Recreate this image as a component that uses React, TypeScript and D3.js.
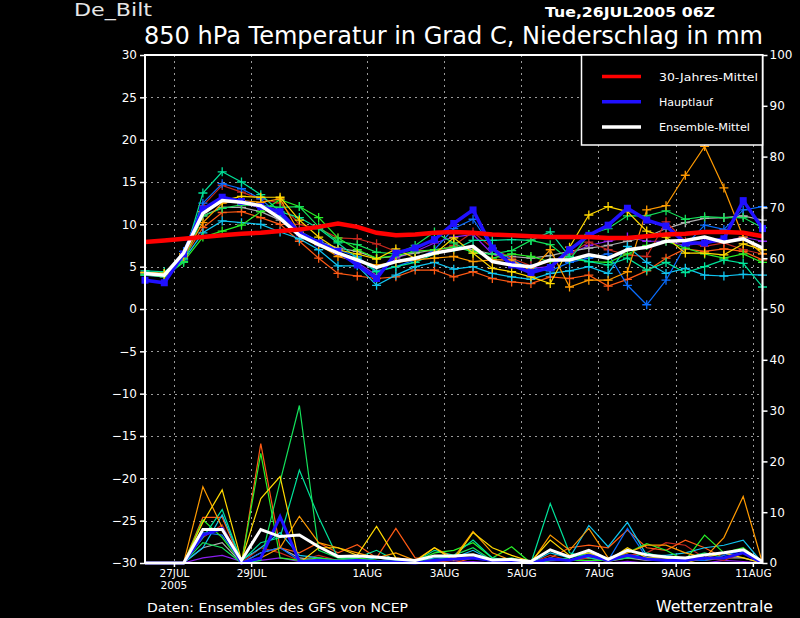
import { useEffect, useRef } from 'react';
import * as d3 from 'd3';

const W = 800;
const H = 618;
const M = { left: 145, right: 762.5, top: 55, bottom: 563 };
const FONT = "'DejaVu Sans', sans-serif";

// run start / end (26JUL2005 06Z, 12-hourly steps)
const START = Date.UTC(2005, 6, 26, 6);
const END = Date.UTC(2005, 7, 11, 6);
const STEP_HOURS = 12;

const dateTicks = ['2005-07-27', '2005-07-29', '2005-08-01', '2005-08-03', '2005-08-05', '2005-08-07', '2005-08-09', '2005-08-11'];
const dateTickLabels = ['27JUL', '29JUL', '1AUG', '3AUG', '5AUG', '7AUG', '9AUG', '11AUG'];
const tempTicks = [30, 25, 20, 15, 10, 5, 0, -5, -10, -15, -20, -25, -30];
const precipTicks = [100, 90, 80, 70, 60, 50, 40, 30, 20, 10, 0];

// 30-Jahres-Mittel
const climMean = [
  7.9, 8.1, 8.3, 8.5, 8.7, 8.9, 9.0, 9.2, 9.4,
  9.7, 10.1, 9.7, 9.0, 8.7, 8.8, 9.0, 9.1,
  9.0, 8.8, 8.7, 8.6, 8.5, 8.5, 8.5, 8.4,
  8.4, 8.6, 8.8, 8.9, 9.1, 9.1, 9.0, 8.6,
];

// Hauptlauf
const mainRun = [
  3.4, 3.1, 6.5, 11.8, 13.2, 12.7, 12.1, 11.5, 9.0,
  7.8, 6.8, 5.2, 3.6, 6.6, 7.2, 8.2, 10.1,
  11.7, 7.2, 5.2, 4.3, 4.9, 7.0, 8.7, 9.9,
  11.9, 10.5, 9.8, 7.8, 7.8, 8.3, 12.8, 9.5,
];
const mainRunPrecip = [
  0, 0, 0, 5.5, 6.8, 0, 1, 9.1, 0.3,
  0.5, 0.3, 0.5, 0.3, 0.2, 0, 0.5, 0.8,
  1, 0.5, 0.3, 0, 0.8, 0.5, 1.5, 0.5,
  1.5, 0.8, 0.5, 0.5, 1, 1, 2, 0,
];

// Ensemble-Mittel
const ensMean = [
  4.2, 4.0, 6.6, 11.3, 12.8, 12.6, 12.2, 10.7, 8.7,
  7.6, 6.6, 5.8, 4.9, 5.6, 6.0, 6.6, 7.0,
  7.4, 5.6, 5.2, 5.0, 5.8, 5.8, 6.4, 6.0,
  7.0, 7.3, 8.0, 8.1, 8.5, 7.9, 8.3, 7.2,
];
const ensMeanPrecip = [
  0, 0, 0, 6.6, 6.6, 0.5, 6.6, 5.2, 5.5,
  3.2, 1.3, 1.4, 1.2, 0.8, 0.5, 1.4, 1.4,
  1.6, 0.6, 0.7, 0.3, 2.6, 1.2, 2.5, 0.7,
  2.5, 1.6, 1.2, 1.0, 1.6, 2.0, 2.6, 0.3,
];

// ensemble members
const memberColors = [
  '#8a1ef0', '#b0b0b0', '#c8281e', '#ff5a14', '#10c4f0', '#0a6eff',
  '#28f028', '#00e39a', '#14e05a', '#ff9a00', '#ffd800',
];
const memberTemps = [
  [4.0, 3.8, 6.3, 11.5, 13.0, 12.5, 12.0, 11.2, 9.0, 7.8, 6.8, 5.5, 4.0, 6.0, 6.8, 7.8, 8.5, 8.8, 6.5, 5.5, 4.8, 5.0, 6.5, 7.5, 8.0, 8.5, 8.0, 8.0, 7.5, 7.8, 8.0, 8.5, 8.0],
  [4.3, 4.2, 6.4, 11.0, 12.0, 12.0, 11.5, 10.5, 9.0, 8.0, 7.2, 6.8, 6.0, 6.2, 6.6, 7.0, 7.3, 7.0, 6.5, 6.2, 6.0, 6.3, 6.8, 7.2, 7.5, 8.0, 8.5, 9.5, 10.2, 10.7, 10.8, 11.0, 10.5],
  [4.4, 4.1, 6.5, 12.2, 14.6, 13.8, 13.0, 12.5, 10.0, 9.5, 8.4, 8.3, 7.7, 6.8, 7.0, 6.8, 7.5, 9.1, 7.2, 6.0, 5.1, 5.6, 6.5, 7.9, 7.0, 6.4, 6.2, 10.3, 8.0, 7.4, 7.8, 7.0, 6.5],
  [4.2, 3.9, 6.0, 9.6, 11.4, 11.5, 10.8, 10.0, 8.0, 6.0, 4.2, 3.9, 3.6, 3.8, 4.6, 4.6, 3.8, 4.4, 3.6, 3.2, 3.0, 3.8, 3.6, 4.0, 2.7, 3.5, 4.5, 6.0, 7.1, 6.8, 7.1, 6.8, 5.8],
  [4.0, 3.9, 5.8, 9.0, 10.4, 10.2, 10.0, 9.1, 8.3, 7.0, 5.1, 5.1, 2.8, 4.0, 5.0, 5.5, 4.7, 5.0, 4.2, 3.8, 3.5, 4.2, 4.5, 5.0, 4.2, 7.4, 5.5, 4.2, 4.8, 4.0, 3.9, 4.1, 4.0],
  [4.2, 4.0, 6.8, 12.5, 14.8, 14.2, 13.0, 11.0, 9.2, 8.0, 7.0, 6.2, 4.5, 5.0, 5.8, 7.0, 9.5, 10.6, 7.2, 5.8, 4.8, 4.5, 5.5, 6.0, 6.5, 2.8, 0.5, 3.4, 7.5, 9.9, 9.4, 11.7, 12.1],
  [4.1, 3.9, 5.6, 8.5, 9.2, 9.9, 11.5, 12.9, 12.1, 10.8, 8.4, 7.0, 6.0, 6.3, 6.8, 7.0, 7.3, 6.8, 6.0, 6.5, 6.2, 5.6, 6.0, 5.6, 5.5, 6.5, 7.5, 8.0, 7.2, 6.5, 6.0, 6.5, 5.5],
  [4.5, 4.4, 6.0, 13.7, 16.2, 15.0, 13.5, 11.5, 10.8, 9.5, 7.8, 6.0, 4.4, 5.0, 5.5, 6.5, 7.0, 8.1, 8.1, 8.2, 8.1, 9.1, 6.2, 5.6, 5.2, 6.0, 4.6, 5.5, 4.3, 5.0, 5.8, 5.4, 2.6],
  [4.0, 3.8, 5.5, 11.0, 11.9, 12.3, 12.2, 12.0, 12.1, 9.7, 8.0, 7.6, 6.7, 6.5, 7.5, 9.1, 7.8, 6.6, 6.5, 6.9, 8.1, 7.6, 5.8, 8.8, 9.5, 11.0, 11.0, 11.6, 10.6, 10.9, 10.8, 10.8, 9.6],
  [4.3, 4.1, 6.2, 10.2, 12.5, 12.8, 12.6, 13.0, 9.0, 7.6, 6.2, 5.6, 5.2, 5.5, 5.8, 6.0, 6.2, 5.6, 5.8, 5.8, 4.5, 7.0, 2.6, 3.4, 3.4, 4.4, 11.7, 12.2, 15.8, 19.2, 14.3, 8.5, 6.5],
  [4.3, 4.2, 6.5, 11.5, 12.8, 13.3, 13.2, 13.2, 10.5, 8.5, 7.0, 6.5, 5.9, 7.1, 6.0, 6.5, 8.4, 6.6, 4.8, 4.4, 3.8, 3.0, 7.3, 11.1, 12.1, 11.5, 9.2, 8.5, 6.6, 6.6, 6.4, 7.7, 7.0],
];
const memberPrecip = [
  [0, 0, 0, 1, 1.5, 0.3, 0.5, 1, 0.3, 0.3, 0, 0, 0, 0, 0, 0, 0.2, 0.3, 0, 0, 0, 0.2, 0, 0.3, 0, 0.3, 0, 0, 0, 0, 0.5, 0.3, 0],
  [0, 0, 0, 3, 4, 0, 2, 3, 1, 0.5, 0.5, 0.5, 0.3, 0.3, 0, 0.5, 0.5, 1, 0.3, 0.3, 0, 0.5, 0.5, 1, 0.3, 1, 0.5, 0.5, 0.5, 0.5, 1, 1, 0],
  [0, 0, 0, 5, 7.5, 0, 3, 2, 0.5, 1.5, 0.5, 1, 0.3, 1, 0.5, 0.3, 0.5, 1, 0.5, 0.3, 0, 1.5, 0.5, 1, 0.5, 1.5, 2, 4, 3.5, 1, 0.5, 2, 0],
  [0, 0, 0, 9, 9, 0, 23.5, 3, 2, 4, 2, 3.6, 1, 6.8, 1, 0.5, 0, 1, 0.5, 0, 0, 1, 3, 3.5, 3, 6.5, 3, 2.5, 4.5, 3, 1, 2, 0],
  [0, 0, 0, 3, 9.5, 0.5, 3, 6, 1.5, 1, 0.5, 0.5, 1, 0.5, 0.3, 1, 1, 2.5, 0.5, 0.5, 0, 2, 1, 7.4, 3.2, 8, 1.5, 1.5, 2, 3, 3.5, 4.5, 0],
  [0, 0, 0, 6, 5.5, 0, 2, 3, 0.5, 0.5, 0.5, 0.5, 0.3, 0.3, 0, 0.5, 1.5, 1.5, 0.5, 0.3, 0, 1, 0.5, 2, 0.5, 6.8, 1, 1, 0.5, 0.5, 1.5, 2.5, 0],
  [0, 0, 0, 8.5, 5, 0, 21.6, 1, 0.5, 1, 0.5, 1, 0.5, 0.3, 0.3, 2, 2.5, 4, 1, 3.2, 0, 0.5, 0.5, 0.5, 0.5, 2, 3.8, 2.5, 0.5, 5.5, 2, 3, 0],
  [0, 0, 0, 5, 10.5, 0.3, 4, 5, 18.3, 9, 1, 1, 2.5, 0.5, 0.3, 2.5, 1.5, 4.5, 1, 0.5, 0, 11.7, 2, 1, 0.5, 1, 2, 1, 1, 1.5, 2, 2.5, 0],
  [0, 0, 0, 4, 3, 0, 0.5, 16, 31, 2.5, 1, 0.5, 0.5, 0.3, 0.5, 0.5, 1.5, 3, 0.5, 1, 0, 0.5, 1, 2, 0.5, 1, 1, 0.5, 1, 2, 1, 2, 0],
  [0, 0, 0, 15, 7, 0, 1, 3, 9.2, 4, 3, 2, 1, 2, 0.5, 3, 1, 6.2, 2, 0.5, 0, 5.5, 2.5, 6.8, 1, 2, 3.5, 3.5, 2, 1, 5, 13.1, 0],
  [0, 0, 0, 8, 14.4, 0.5, 12.7, 17, 0, 3, 3, 1.5, 7.2, 1, 0.3, 3, 0.5, 6, 3, 1.5, 0.3, 4.5, 1.5, 2, 0.5, 3, 1, 1, 0, 1, 2, 1, 0],
];

const legendItems = [
  { label: '30-Jahres-Mittel', color: '#ff0000', len: 99 },
  { label: 'Hauptlauf', color: '#2010ff', len: 54 },
  { label: 'Ensemble-Mittel', color: '#ffffff', len: 91 },
];

export default function App() {
  const svgRef = useRef<SVGSVGElement>(null);

  useEffect(() => {
    if (!svgRef.current) return;
    const svg = d3.select(svgRef.current);
    svg.selectAll('*').remove();

    const times = ensMean.map((_, i) => new Date(START + i * STEP_HOURS * 3600e3));
    const x = d3.scaleUtc().domain([new Date(START), new Date(END)]).range([M.left, M.right]);
    const yT = d3.scaleLinear().domain([-30, 30]).range([M.bottom, M.top]);
    const yP = d3.scaleLinear().domain([0, 100]).range([M.bottom, M.top]);
    const tickDates = dateTicks.map((d) => new Date(d + 'T00:00:00Z'));

    svg.append('rect').attr('width', W).attr('height', H).attr('fill', '#000');

    // dotted grid
    const grid = svg.append('g')
      .attr('stroke', '#9a9a9a')
      .attr('stroke-dasharray', '2,4')
      .attr('shape-rendering', 'crispEdges');
    grid.selectAll('line.h')
      .data(tempTicks.filter((t) => t > -30 && t < 30))
      .join('line')
      .attr('x1', M.left).attr('x2', M.right)
      .attr('y1', (d) => Math.round(yT(d)) + 0.5)
      .attr('y2', (d) => Math.round(yT(d)) + 0.5);
    grid.selectAll('line.v')
      .data(tickDates)
      .join('line')
      .attr('x1', (d) => Math.round(x(d)) + 0.5)
      .attr('x2', (d) => Math.round(x(d)) + 0.5)
      .attr('y1', M.top).attr('y2', M.bottom);

    const tLine = d3.line<number>().x((_, i) => x(times[i])).y((d) => yT(d));
    const pLine = d3.line<number>().x((_, i) => x(times[i])).y((d) => yP(d));

    const data = svg.append('g');

    // precipitation members
    memberPrecip.forEach((vals, k) => {
      data.append('path')
        .attr('d', pLine(vals))
        .attr('fill', 'none')
        .attr('stroke', memberColors[k])
        .attr('stroke-width', 1.2);
    });
    data.append('path').attr('d', pLine(mainRunPrecip)).attr('fill', 'none')
      .attr('stroke', '#2010ff').attr('stroke-width', 3);
    data.append('path').attr('d', pLine(ensMeanPrecip)).attr('fill', 'none')
      .attr('stroke', '#fff').attr('stroke-width', 3);

    // temperature members with + markers
    memberTemps.forEach((vals, k) => {
      const g = data.append('g').attr('stroke', memberColors[k]).attr('fill', 'none');
      g.append('path').attr('d', tLine(vals)).attr('stroke-width', 1.2);
      g.append('path')
        .attr('stroke-width', 1.3)
        .attr('d', vals.map((v, i) => {
          const cx = x(times[i]);
          const cy = yT(v);
          return `M${cx - 4.5},${cy}h9M${cx},${cy - 4.5}v9`;
        }).join(''));
    });

    // Hauptlauf
    data.append('path').attr('d', tLine(mainRun)).attr('fill', 'none')
      .attr('stroke', '#2010ff').attr('stroke-width', 3.5);
    data.selectAll('rect.sq')
      .data(mainRun)
      .join('rect')
      .attr('x', (_, i) => x(times[i]) - 3.5)
      .attr('y', (d) => yT(d) - 3.5)
      .attr('width', 7).attr('height', 7)
      .attr('fill', '#2010ff');

    // Ensemble-Mittel
    data.append('path').attr('d', tLine(ensMean)).attr('fill', 'none')
      .attr('stroke', '#fff').attr('stroke-width', 3.5);

    // 30-Jahres-Mittel
    data.append('path').attr('d', tLine(climMean)).attr('fill', 'none')
      .attr('stroke', '#ff0000').attr('stroke-width', 4.5);

    // axes
    const left = svg.append('g')
      .attr('transform', `translate(${M.left},0)`)
      .call(d3.axisLeft(yT).tickValues(tempTicks).tickSize(5).tickPadding(3));
    const right = svg.append('g')
      .attr('transform', `translate(${M.right},0)`)
      .call(d3.axisRight(yP).tickValues(precipTicks).tickSize(5).tickPadding(2));
    const bottom = svg.append('g')
      .attr('transform', `translate(0,${M.bottom})`)
      .call(d3.axisBottom(x).tickValues(tickDates).tickSize(4).tickPadding(3)
        .tickFormat((_, i) => dateTickLabels[i]));
    [left, right, bottom].forEach((ax) => {
      ax.select('.domain').remove();
      ax.selectAll('line').attr('stroke', '#fff').attr('stroke-width', 1.5);
      ax.selectAll('text')
        .attr('fill', '#fff')
        .attr('font-family', FONT)
        .attr('font-size', 12);
    });
    bottom.selectAll('text')
      .attr('font-size', 10.5)
      .attr('dy', null)
      .attr('y', 14);
    svg.append('text')
      .attr('x', x(tickDates[0])).attr('y', 589)
      .attr('text-anchor', 'middle')
      .attr('fill', '#fff').attr('font-family', FONT).attr('font-size', 10.5)
      .text('2005');

    // frame
    svg.append('rect')
      .attr('x', M.left).attr('y', M.top)
      .attr('width', M.right - M.left).attr('height', M.bottom - M.top)
      .attr('fill', 'none').attr('stroke', '#fff').attr('stroke-width', 2);

    // legend
    const lg = svg.append('g');
    lg.append('rect')
      .attr('x', 581.5).attr('y', M.top)
      .attr('width', M.right - 581.5).attr('height', 90)
      .attr('fill', '#000').attr('stroke', '#fff').attr('stroke-width', 1.5);
    legendItems.forEach((it, i) => {
      const cy = 76.5 + i * 25.3;
      lg.append('line')
        .attr('x1', 602).attr('x2', 641).attr('y1', cy).attr('y2', cy)
        .attr('stroke', it.color).attr('stroke-width', 3.5);
      lg.append('text')
        .attr('x', 659).attr('y', cy + 4)
        .attr('fill', '#fff').attr('font-family', FONT).attr('font-size', 10.5)
        .attr('textLength', it.len).attr('lengthAdjust', 'spacingAndGlyphs')
        .text(it.label);
    });

    // titles
    const txt = (s: string, px: number, py: number, size: number, len: number) =>
      svg.append('text')
        .attr('x', px).attr('y', py)
        .attr('fill', '#fff').attr('font-family', FONT).attr('font-size', size)
        .attr('textLength', len).attr('lengthAdjust', 'spacingAndGlyphs')
        .text(s);
    txt('De_Bilt', 74, 16, 18, 78).attr('fill', '#e6e6e6');
    txt('850 hPa Temperatur in Grad C, Niederschlag in mm', 144, 43.5, 24, 619);
    txt('Tue,26JUL2005 06Z', 545, 16.5, 14.5, 170).attr('font-weight', 'bold');
    txt('Daten: Ensembles des GFS von NCEP', 147, 612, 13, 261);
    txt('Wetterzentrale', 656, 612, 16, 117);
  }, []);

  return (
    <div style={{ position: 'fixed', left: 0, top: 0, width: W, height: H, background: '#000' }}>
      <svg ref={svgRef} width={W} height={H} style={{ display: 'block' }} />
    </div>
  );
}
